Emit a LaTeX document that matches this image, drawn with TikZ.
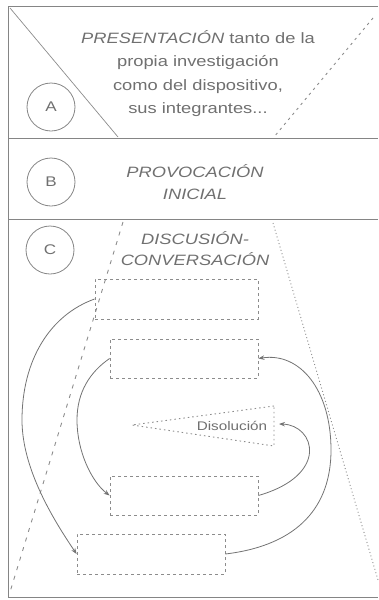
\documentclass[tikz,border=0pt]{standalone}
\usepackage{fontspec}
\setmainfont{Liberation Sans}[FakeStretch=1.22]
\usetikzlibrary{arrows.meta}
\definecolor{framec}{gray}{0.52}
\definecolor{arcc}{gray}{0.45}
\definecolor{txtc}{gray}{0.44}
\definecolor{dashc}{gray}{0.55}
\tikzset{
  frameline/.style={draw=framec, line width=0.9pt},
  letter/.style={circle, draw=framec, line width=0.8pt, minimum size=48pt, inner sep=0pt, text=txtc, font=\fontsize{14}{16}\selectfont},
  txt/.style={anchor=base, text=txtc, inner sep=0pt, font=\fontsize{15}{18}\selectfont},
  boxd/.style={draw=dashc, line width=0.8pt, dash pattern=on 3pt off 3pt, inner sep=0pt},
  arcline/.style={draw=arcc, line width=0.8pt, -{Stealth[length=6pt,width=4.5pt]}},
  diagsolid/.style={draw=dashc, line width=0.7pt},
  diagdash/.style={draw=dashc, line width=0.9pt, dash pattern=on 2.5pt off 4pt},
  diagdot/.style={draw=dashc, line width=0.9pt, dash pattern=on 1pt off 2.5pt},
  longdash/.style={draw=dashc, line width=0.9pt, dash pattern=on 4pt off 6pt},
}
\begin{document}
\begin{tikzpicture}[x=1pt,y=-1pt]
\useasboundingbox (0,0) rectangle (378,600);
% frame
\draw[frameline] (378,6) -- (8,6) -- (8,597) -- (378,597);
\draw[frameline] (8,138) -- (378,138);
\draw[frameline] (8,219) -- (378,219);
% section A diagonals
\draw[diagsolid] (10,8) -- (118,137);
\draw[diagdash] (373,18) -- (274,137);
% section C diagonals
\draw[longdash] (123,222) -- (10,592);
\draw[diagdot] (273,223) -- (378,580);
% circles
\node[letter] (cA) at (51,107) {A};
\node[letter] (cB) at (51,182) {B};
\node[letter] (cC) at (50,250) {C};
% texts A
\node[txt] (tA1) at (198,43) {\textit{PRESENTACIÓN} tanto de la};
\node[txt] (tA2) at (198,66) {propia investigación};
\node[txt] (tA3) at (198,90) {como del dispositivo,};
\node[txt] (tA4) at (198,113) {sus integrantes...};
% texts B
\node[txt] (tB1) at (195,177) {\textit{PROVOCACIÓN}};
\node[txt] (tB2) at (195,199) {\textit{INICIAL}};
% texts C
\node[txt] (tC1) at (195,244) {\textit{DISCUSIÓN-}};
\node[txt] (tC2) at (195,265) {\textit{CONVERSACIÓN}};
% boxes
\node[boxd, minimum width=163pt, minimum height=40pt] (b1) at (176.5,299) {};
\node[boxd, minimum width=148pt, minimum height=39pt] (b2) at (184,358.5) {};
\node[boxd, minimum width=148pt, minimum height=39pt] (b3) at (184,495.5) {};
\node[boxd, minimum width=148pt, minimum height=40pt] (b4) at (151,554) {};
% disolucion
\coordinate (dApex) at (132,425);
\coordinate (dTop) at (274,406);
\coordinate (dBot) at (274,446);
\draw[draw=dashc, line width=0.9pt, dash pattern=on 1.5pt off 3pt] (dTop) -- (dApex) -- (dBot) -- cycle;
\node[fill=white, inner sep=1pt, text=txtc, font=\fontsize{12.5}{14}\selectfont] (dis) at (232,426) {Disolución};
\coordinate (disR) at (279,424);
% arcs
\draw[arcline] (b1.west) .. controls (50,315) and (22,360) .. (22,420) .. controls (22,470) and (55,522) .. (b4.west);
\draw[arcline] (b2.west) .. controls (90,372) and (77,392) .. (77,420) .. controls (77,452) and (92,482) .. (b3.west);
\draw[arcline] (b3.east) .. controls (330,475) and (315,425) .. (disR);
\draw[arcline] (b4.east) .. controls (300,545) and (331,505) .. (331,450) .. controls (331,390) and (300,352) .. (b2.east);
\end{tikzpicture}
\end{document}
